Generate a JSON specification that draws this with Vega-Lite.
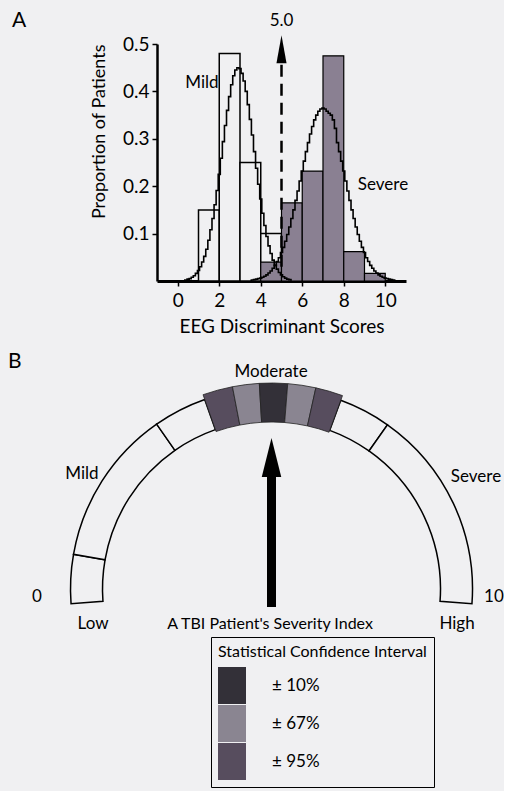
{
  "$schema": "https://vega.github.io/schema/vega-lite/v6.json",
  "background": "#f0f0f2",
  "padding": {"left": 8, "top": 10, "right": 0, "bottom": 0},
  "config": {"font": "Lato", "view": {"stroke": null}},
  "bounds": "flush",
  "align": "each",
  "spacing": 20,
  "datasets": {
    "mildBars": [
      {"x0": 1, "x1": 2, "p": 0.15},
      {"x0": 2, "x1": 3, "p": 0.48},
      {"x0": 3, "x1": 4, "p": 0.25},
      {"x0": 4, "x1": 5, "p": 0.1}
    ],
    "severeBars": [
      {"x0": 4, "x1": 5, "p": 0.04},
      {"x0": 5, "x1": 6, "p": 0.165},
      {"x0": 6, "x1": 7, "p": 0.232},
      {"x0": 7, "x1": 8, "p": 0.475},
      {"x0": 8, "x1": 9, "p": 0.062},
      {"x0": 9, "x1": 10, "p": 0.016}
    ],
    "curves": [
      {"group": "Mild", "s": 0.3, "p": 0.002}, {"group": "Mild", "s": 0.4, "p": 0.002},
      {"group": "Mild", "s": 0.5, "p": 0.004}, {"group": "Mild", "s": 0.6, "p": 0.005},
      {"group": "Mild", "s": 0.7, "p": 0.008}, {"group": "Mild", "s": 0.8, "p": 0.011},
      {"group": "Mild", "s": 0.9, "p": 0.016}, {"group": "Mild", "s": 1.0, "p": 0.022},
      {"group": "Mild", "s": 1.1, "p": 0.030}, {"group": "Mild", "s": 1.2, "p": 0.040},
      {"group": "Mild", "s": 1.3, "p": 0.052}, {"group": "Mild", "s": 1.4, "p": 0.067},
      {"group": "Mild", "s": 1.5, "p": 0.086}, {"group": "Mild", "s": 1.6, "p": 0.108},
      {"group": "Mild", "s": 1.7, "p": 0.132}, {"group": "Mild", "s": 1.8, "p": 0.161},
      {"group": "Mild", "s": 1.9, "p": 0.191}, {"group": "Mild", "s": 2.0, "p": 0.225},
      {"group": "Mild", "s": 2.1, "p": 0.259}, {"group": "Mild", "s": 2.2, "p": 0.294},
      {"group": "Mild", "s": 2.3, "p": 0.328}, {"group": "Mild", "s": 2.4, "p": 0.360},
      {"group": "Mild", "s": 2.5, "p": 0.389}, {"group": "Mild", "s": 2.6, "p": 0.414},
      {"group": "Mild", "s": 2.7, "p": 0.433}, {"group": "Mild", "s": 2.8, "p": 0.445},
      {"group": "Mild", "s": 2.9, "p": 0.450}, {"group": "Mild", "s": 3.0, "p": 0.448},
      {"group": "Mild", "s": 3.1, "p": 0.438}, {"group": "Mild", "s": 3.2, "p": 0.422},
      {"group": "Mild", "s": 3.3, "p": 0.400}, {"group": "Mild", "s": 3.4, "p": 0.372},
      {"group": "Mild", "s": 3.5, "p": 0.341}, {"group": "Mild", "s": 3.6, "p": 0.308},
      {"group": "Mild", "s": 3.7, "p": 0.273}, {"group": "Mild", "s": 3.8, "p": 0.238},
      {"group": "Mild", "s": 3.9, "p": 0.204}, {"group": "Mild", "s": 4.0, "p": 0.173},
      {"group": "Mild", "s": 4.1, "p": 0.143}, {"group": "Mild", "s": 4.2, "p": 0.117},
      {"group": "Mild", "s": 4.3, "p": 0.094}, {"group": "Mild", "s": 4.4, "p": 0.074},
      {"group": "Mild", "s": 4.5, "p": 0.058}, {"group": "Mild", "s": 4.6, "p": 0.044},
      {"group": "Mild", "s": 4.7, "p": 0.033}, {"group": "Mild", "s": 4.8, "p": 0.025},
      {"group": "Mild", "s": 4.9, "p": 0.018}, {"group": "Mild", "s": 5.0, "p": 0.013},
      {"group": "Mild", "s": 5.1, "p": 0.009}, {"group": "Mild", "s": 5.2, "p": 0.006},
      {"group": "Mild", "s": 5.3, "p": 0.004}, {"group": "Mild", "s": 5.4, "p": 0.003},
      {"group": "Mild", "s": 5.5, "p": 0.002},
      {"group": "Severe", "s": 3.5, "p": 0.001}, {"group": "Severe", "s": 3.6, "p": 0.002},
      {"group": "Severe", "s": 3.7, "p": 0.003}, {"group": "Severe", "s": 3.8, "p": 0.004},
      {"group": "Severe", "s": 3.9, "p": 0.005}, {"group": "Severe", "s": 4.0, "p": 0.006},
      {"group": "Severe", "s": 4.1, "p": 0.008}, {"group": "Severe", "s": 4.2, "p": 0.010},
      {"group": "Severe", "s": 4.3, "p": 0.013}, {"group": "Severe", "s": 4.4, "p": 0.017},
      {"group": "Severe", "s": 4.5, "p": 0.021}, {"group": "Severe", "s": 4.6, "p": 0.027},
      {"group": "Severe", "s": 4.7, "p": 0.033}, {"group": "Severe", "s": 4.8, "p": 0.041},
      {"group": "Severe", "s": 4.9, "p": 0.049}, {"group": "Severe", "s": 5.0, "p": 0.060},
      {"group": "Severe", "s": 5.1, "p": 0.071}, {"group": "Severe", "s": 5.2, "p": 0.084},
      {"group": "Severe", "s": 5.3, "p": 0.098}, {"group": "Severe", "s": 5.4, "p": 0.114},
      {"group": "Severe", "s": 5.5, "p": 0.132}, {"group": "Severe", "s": 5.6, "p": 0.150},
      {"group": "Severe", "s": 5.7, "p": 0.170}, {"group": "Severe", "s": 5.8, "p": 0.190},
      {"group": "Severe", "s": 5.9, "p": 0.211}, {"group": "Severe", "s": 6.0, "p": 0.232},
      {"group": "Severe", "s": 6.1, "p": 0.253}, {"group": "Severe", "s": 6.2, "p": 0.273},
      {"group": "Severe", "s": 6.3, "p": 0.292}, {"group": "Severe", "s": 6.4, "p": 0.310},
      {"group": "Severe", "s": 6.5, "p": 0.326}, {"group": "Severe", "s": 6.6, "p": 0.340},
      {"group": "Severe", "s": 6.7, "p": 0.350}, {"group": "Severe", "s": 6.8, "p": 0.358},
      {"group": "Severe", "s": 6.9, "p": 0.363}, {"group": "Severe", "s": 7.0, "p": 0.365},
      {"group": "Severe", "s": 7.1, "p": 0.363}, {"group": "Severe", "s": 7.2, "p": 0.358},
      {"group": "Severe", "s": 7.3, "p": 0.354}, {"group": "Severe", "s": 7.4, "p": 0.350},
      {"group": "Severe", "s": 7.5, "p": 0.340}, {"group": "Severe", "s": 7.6, "p": 0.322},
      {"group": "Severe", "s": 7.7, "p": 0.292}, {"group": "Severe", "s": 7.8, "p": 0.273},
      {"group": "Severe", "s": 7.9, "p": 0.253}, {"group": "Severe", "s": 8.0, "p": 0.232},
      {"group": "Severe", "s": 8.1, "p": 0.211}, {"group": "Severe", "s": 8.2, "p": 0.190},
      {"group": "Severe", "s": 8.3, "p": 0.170}, {"group": "Severe", "s": 8.4, "p": 0.150},
      {"group": "Severe", "s": 8.5, "p": 0.132}, {"group": "Severe", "s": 8.6, "p": 0.114},
      {"group": "Severe", "s": 8.7, "p": 0.098}, {"group": "Severe", "s": 8.8, "p": 0.084},
      {"group": "Severe", "s": 8.9, "p": 0.071}, {"group": "Severe", "s": 9.0, "p": 0.060},
      {"group": "Severe", "s": 9.1, "p": 0.049}, {"group": "Severe", "s": 9.2, "p": 0.041},
      {"group": "Severe", "s": 9.3, "p": 0.033}, {"group": "Severe", "s": 9.4, "p": 0.027},
      {"group": "Severe", "s": 9.5, "p": 0.021}, {"group": "Severe", "s": 9.6, "p": 0.017},
      {"group": "Severe", "s": 9.7, "p": 0.013}, {"group": "Severe", "s": 9.8, "p": 0.010},
      {"group": "Severe", "s": 9.9, "p": 0.008}, {"group": "Severe", "s": 10.0, "p": 0.006},
      {"group": "Severe", "s": 10.1, "p": 0.005}, {"group": "Severe", "s": 10.2, "p": 0.004},
      {"group": "Severe", "s": 10.3, "p": 0.003}, {"group": "Severe", "s": 10.4, "p": 0.002},
      {"group": "Severe", "s": 10.5, "p": 0.001}
    ],
    "labelsA": [
      {"t": "5.0", "x": 5, "y": 0.5475},
      {"t": "Mild", "x": 1.169, "y": 0.418},
      {"t": "Severe", "x": 9.89, "y": 0.2025}
    ],
    "gaugeSeg": [
      {"a": 0, "b": 0.75},
      {"a": 0.75, "b": 3.15},
      {"a": 3.15, "b": 3.97},
      {"a": 6.07, "b": 6.87},
      {"a": 6.87, "b": 10}
    ],
    "blocks": [
      {"a": 3.97, "b": 4.42, "ci": "± 95%"},
      {"a": 4.42, "b": 4.82, "ci": "± 67%"},
      {"a": 4.82, "b": 5.24, "ci": "± 10%"},
      {"a": 5.24, "b": 5.66, "ci": "± 67%"},
      {"a": 5.66, "b": 6.07, "ci": "± 95%"}
    ],
    "labelsB": [
      {"t": "Moderate", "x": 4.99, "y": 5.761},
      {"t": "Mild", "x": 0.274, "y": 3.217},
      {"t": "Severe", "x": 10.1, "y": 3.142},
      {"t": "0", "x": -0.848, "y": 0.15},
      {"t": "Low", "x": 0.549, "y": -0.524},
      {"t": "High", "x": 9.626, "y": -0.524}
    ]
  },
  "vconcat": [
    {
      "width": 249,
      "height": 237,
      "layer": [
        {
          "data": {"name": "mildBars"},
          "mark": {"type": "rect", "fill": "#f0f0f2", "stroke": "black", "strokeWidth": 1.5},
          "encoding": {
            "x": {
              "field": "x0", "type": "quantitative", "title": "EEG Discriminant Scores",
              "scale": {"domain": [-1, 11], "nice": false, "zero": false},
              "axis": {
                "values": [0, 2, 4, 6, 8, 10], "title": "EEG Discriminant Scores", "grid": false,
                "domainColor": "black", "domainWidth": 3, "tickColor": "black", "tickSize": 5, "tickWidth": 1.5,
                "labelFontSize": 19, "labelColor": "black", "labelPadding": 5,
                "titleFontSize": 19, "titleFontWeight": "normal", "titleColor": "black", "titlePadding": 7
              }
            },
            "x2": {"field": "x1"},
            "y": {
              "field": "p", "type": "quantitative", "title": "Proportion of Patients",
              "scale": {"domain": [0, 0.5], "nice": false},
              "axis": {
                "values": [0.1, 0.2, 0.3, 0.4, 0.5], "format": ".1f", "title": "Proportion of Patients", "grid": false,
                "domainColor": "black", "domainWidth": 2.5, "tickColor": "black", "tickSize": 5, "tickWidth": 1.5,
                "labelFontSize": 19, "labelColor": "black", "labelPadding": 3,
                "titleFontSize": 18, "titleFontWeight": "normal", "titleColor": "black", "titlePadding": 14, "titleAnchor": "end"
              }
            },
            "y2": {"datum": 0}
          }
        },
        {
          "data": {"name": "severeBars"},
          "mark": {"type": "rect", "fill": "#8a8092", "stroke": "black", "strokeWidth": 1.2},
          "encoding": {
            "x": {"field": "x0", "type": "quantitative", "title": "EEG Discriminant Scores"},
            "x2": {"field": "x1"},
            "y": {"field": "p", "type": "quantitative", "title": "Proportion of Patients"},
            "y2": {"datum": 0}
          }
        },
        {
          "data": {"name": "curves"},
          "mark": {"type": "line", "interpolate": "step", "stroke": "black", "strokeWidth": 1.6},
          "encoding": {
            "x": {"field": "s", "type": "quantitative", "title": "EEG Discriminant Scores"},
            "y": {"field": "p", "type": "quantitative", "title": "Proportion of Patients"},
            "detail": {"field": "group"}
          }
        },
        {
          "data": {"values": [{}]},
          "mark": {"type": "rule", "strokeDash": [12, 7], "strokeWidth": 2.5, "color": "black"},
          "encoding": {
            "x": {"datum": 5, "type": "quantitative", "title": "EEG Discriminant Scores"},
            "y": {"datum": 0.03, "type": "quantitative", "title": "Proportion of Patients"},
            "y2": {"datum": 0.465}
          }
        },
        {
          "data": {"values": [{}]},
          "mark": {"type": "point", "shape": "M0,-1L0.36,1L-0.36,1Z", "filled": true, "fill": "black", "size": 784, "opacity": 1, "strokeWidth": 0},
          "encoding": {
            "x": {"datum": 5, "type": "quantitative", "title": "EEG Discriminant Scores"},
            "y": {"datum": 0.489, "type": "quantitative", "title": "Proportion of Patients"}
          }
        },
        {
          "data": {"name": "labelsA"},
          "mark": {"type": "text", "fontSize": 17, "align": "center", "baseline": "middle", "color": "black"},
          "encoding": {
            "x": {"field": "x", "type": "quantitative", "title": "EEG Discriminant Scores"},
            "y": {"field": "y", "type": "quantitative", "title": "Proportion of Patients"},
            "text": {"field": "t"}
          }
        },
        {
          "data": {"values": [{"t": "A", "x": -7.988, "y": 0.5707}]},
          "mark": {"type": "text", "fontSize": 21, "align": "left", "baseline": "top", "color": "black"},
          "encoding": {
            "x": {"field": "x", "type": "quantitative", "title": "EEG Discriminant Scores"},
            "y": {"field": "y", "type": "quantitative", "title": "Proportion of Patients"},
            "text": {"field": "t"}
          }
        }
      ]
    },
    {
      "width": 249,
      "height": 490,
      "layer": [
        {
          "data": {"name": "gaugeSeg"},
          "mark": {"type": "arc", "radius": 201, "radius2": 169, "fill": "#f0f0f2", "stroke": "black", "strokeWidth": 1.5},
          "encoding": {
            "theta": {"field": "a", "type": "quantitative", "scale": {"domain": [0, 10], "range": [-1.644, 1.644]}},
            "theta2": {"field": "b"},
            "x": {"datum": 5, "type": "quantitative", "scale": {"domain": [2.1446, 8.3541], "nice": false, "zero": false}, "axis": null},
            "y": {"datum": 0.349, "type": "quantitative", "scale": {"domain": [-4.6883, 7.5312], "nice": false, "zero": false}, "axis": null}
          }
        },
        {
          "data": {"name": "blocks"},
          "mark": {"type": "arc", "radius": 206, "radius2": 167, "stroke": "#222222", "strokeWidth": 0.8, "opacity": 1},
          "encoding": {
            "theta": {"field": "a", "type": "quantitative", "scale": {"domain": [0, 10], "range": [-1.644, 1.644]}},
            "theta2": {"field": "b"},
            "x": {"datum": 5, "type": "quantitative", "axis": null},
            "y": {"datum": 0.349, "type": "quantitative", "axis": null},
            "color": {
              "field": "ci", "type": "nominal",
              "scale": {"domain": ["± 10%", "± 67%", "± 95%"], "range": ["#333038", "#8a8591", "#574d5e"]},
              "legend": {
                "orient": "none", "legendX": 54, "legendY": 593,
                "title": "Statistical Confidence Interval", "titleFontSize": 16, "titleFontWeight": "normal", "titleColor": "black", "titlePadding": 11.5, "titleLimit": 400,
                "labelFontSize": 17, "labelColor": "black", "labelOffset": 26,
                "symbolType": "M-1,-1.32H1V1.32H-1Z", "symbolSize": 784, "symbolStrokeWidth": 0, "symbolOpacity": 1,
                "rowPadding": 0, "padding": 7, "strokeColor": "black", "cornerRadius": 0
              }
            }
          }
        },
        {
          "data": {"values": [{}]},
          "mark": {"type": "rule", "strokeWidth": 9, "color": "black"},
          "encoding": {
            "x": {"datum": 5, "type": "quantitative", "axis": null},
            "y": {"datum": -0.1, "type": "quantitative", "axis": null},
            "y2": {"datum": 3.35}
          }
        },
        {
          "data": {"values": [{}]},
          "mark": {"type": "point", "shape": "M0,-1L0.5,1L-0.5,1Z", "filled": true, "fill": "black", "size": 1521, "opacity": 1, "strokeWidth": 0},
          "encoding": {
            "x": {"datum": 5, "type": "quantitative", "axis": null},
            "y": {"datum": 3.628, "type": "quantitative", "axis": null}
          }
        },
        {
          "data": {"name": "labelsB"},
          "mark": {"type": "text", "fontSize": 17, "align": "center", "baseline": "middle", "color": "black"},
          "encoding": {
            "x": {"field": "x", "type": "quantitative", "axis": null},
            "y": {"field": "y", "type": "quantitative", "axis": null},
            "text": {"field": "t"}
          }
        },
        {
          "data": {"values": [{"t": "A TBI Patient's Severity Index", "x": 4.963, "y": -0.524}]},
          "mark": {"type": "text", "fontSize": 16, "align": "center", "baseline": "middle", "color": "black"},
          "encoding": {
            "x": {"field": "x", "type": "quantitative", "axis": null},
            "y": {"field": "y", "type": "quantitative", "axis": null},
            "text": {"field": "t"}
          }
        },
        {
          "data": {"values": [{"t": "10", "x": 10.3, "y": 0.15}]},
          "mark": {"type": "text", "fontSize": 17, "align": "left", "baseline": "middle", "color": "black"},
          "encoding": {
            "x": {"field": "x", "type": "quantitative", "axis": null},
            "y": {"field": "y", "type": "quantitative", "axis": null},
            "text": {"field": "t"}
          }
        },
        {
          "data": {"values": [{"t": "B", "x": -1.571, "y": 6.01}]},
          "mark": {"type": "text", "fontSize": 21, "align": "left", "baseline": "middle", "color": "black"},
          "encoding": {
            "x": {"field": "x", "type": "quantitative", "axis": null},
            "y": {"field": "y", "type": "quantitative", "axis": null},
            "text": {"field": "t"}
          }
        }
      ]
    }
  ]
}
